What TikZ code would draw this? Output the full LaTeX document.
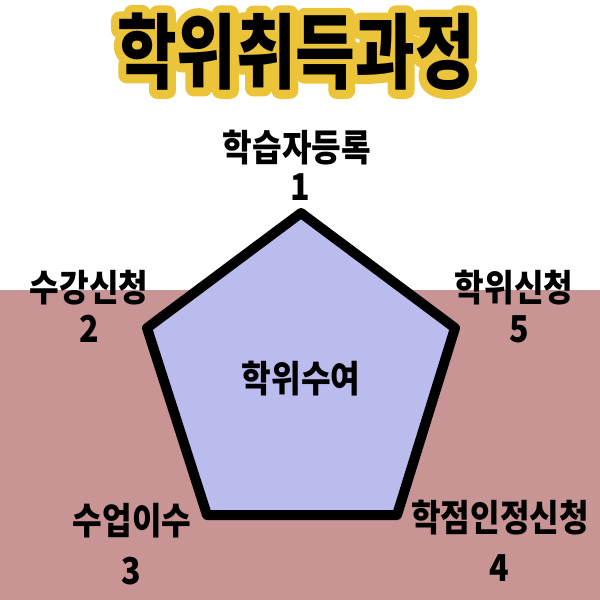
\documentclass[tikz,border=0pt]{standalone}
\usepackage{fontspec}
\newfontfamily\lblfont[FakeStretch=0.87]{Noto Sans CJK KR}
\newfontfamily\ttlfont[FakeStretch=0.79]{Noto Sans CJK KR}
\newfontfamily\ttlout[FakeStretch=0.79,FakeBold=20]{Noto Sans CJK KR}
\definecolor{bgpink}{HTML}{C99494}
\definecolor{lav}{HTML}{BBBCEE}
\definecolor{ttlyellow}{HTML}{EBC43A}
\tikzset{
  lbl/.style={font=\lblfont\bfseries\fontsize{18.5pt}{20pt}\selectfont, inner sep=0pt, anchor=center, text=black},
  ttl/.style={font=\ttlfont\bfseries\fontsize{41pt}{44pt}\selectfont, inner sep=0pt, anchor=center},
  ttlo/.style={font=\ttlout\bfseries\fontsize{41pt}{44pt}\selectfont, inner sep=0pt, anchor=center},
}
\begin{document}
\begin{tikzpicture}[x=0.5pt,y=-0.5pt]
\useasboundingbox (0,0) rectangle (600,600);
\fill[white] (0,0) rectangle (600,290);
\fill[bgpink] (0,290) rectangle (600,600);
% title with yellow outline
\node[ttlo,text=ttlyellow] (outline) at (296,52) {\special{pdf:literal direct 1 j 1 J}학위취득과정};
\node[ttl,text=black] (title) at (296,52) {학위취득과정};
% pentagon
\coordinate (v1) at (301,213);
\coordinate (v2) at (147,328);
\coordinate (v3) at (207,515);
\coordinate (v4) at (397,515);
\coordinate (v5) at (455,328);
\draw[line width=5pt, line join=round, fill=lav] (v1) -- (v2) -- (v3) -- (v4) -- (v5) -- cycle;
\node[lbl] (center) at (301,379) {학위수여};
% labels
\node[lbl] (l1) at (297,148) {학습자등록};
\node[lbl] (n1) at (300,187) {1};
\node[lbl] (l2) at (89,288) {수강신청};
\node[lbl] (n2) at (89,329) {2};
\node[lbl] (l5) at (514,288) {학위신청};
\node[lbl] (n5) at (519,329) {5};
\node[lbl] (l3) at (132,521) {수업이수};
\node[lbl] (n3) at (131,571) {3};
\node[lbl] (l4) at (500,518) {학점인정신청};
\node[lbl] (n4) at (499,568) {4};
\end{tikzpicture}
\end{document}
